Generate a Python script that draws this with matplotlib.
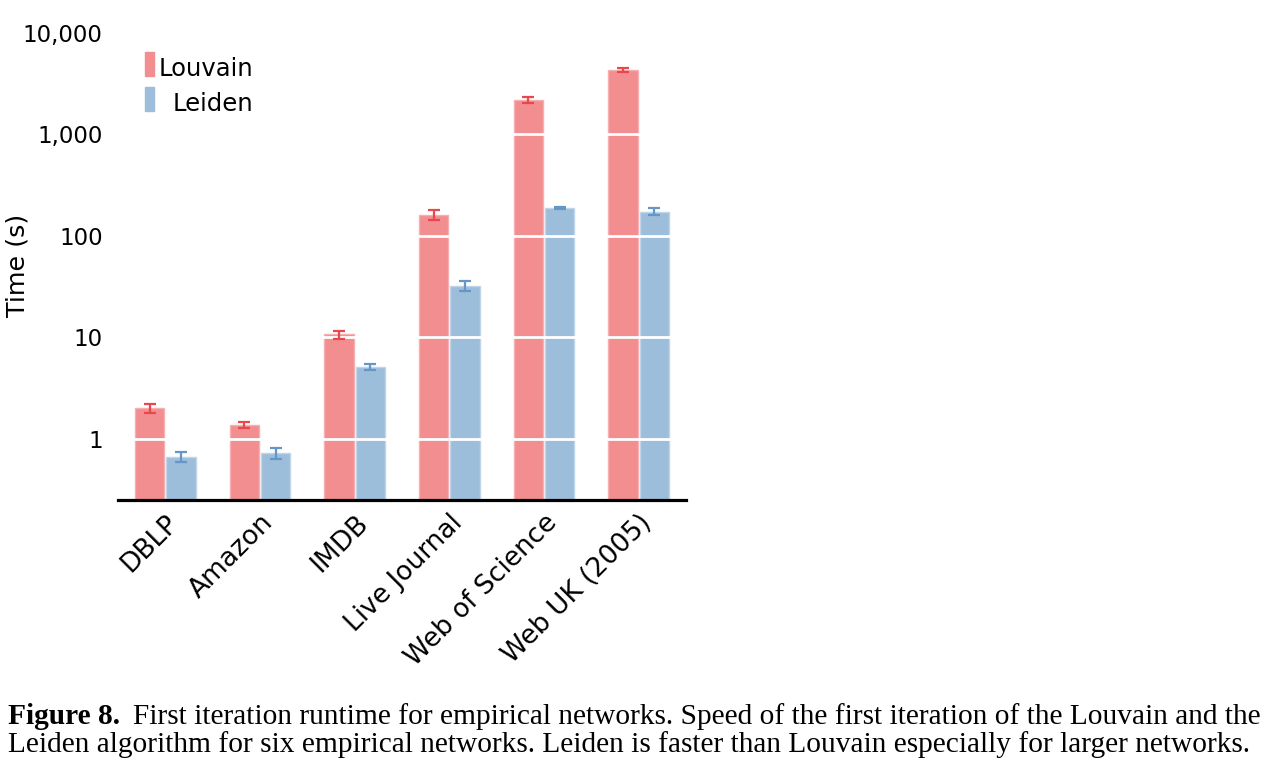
import numpy as np
import matplotlib
matplotlib.use('Agg')
import matplotlib.pyplot as plt
from matplotlib.patches import Rectangle
from matplotlib.ticker import FixedLocator, FuncFormatter, NullLocator

networks = ['DBLP', 'Amazon', 'IMDB', 'Live Journal', 'Web of Science', 'Web UK (2005)']

# runtime of first iteration (s)
louvain = [2.02, 1.37, 10.7, 161, 2190, 4320]
louvain_lo = [1.82, 1.28, 9.6, 144, 2057, 4130]
louvain_hi = [2.21, 1.47, 11.7, 180, 2340, 4550]

leiden = [0.665, 0.723, 5.12, 32.4, 187.5, 174]
leiden_lo = [0.597, 0.64, 4.78, 28.9, 184, 162]
leiden_hi = [0.75, 0.815, 5.52, 36, 191, 189]

yticks = [1, 10, 100, 1000, 10000]

RED = '#f28e8f'
RED_EDGE = '#f6b0b1'
RED_ERR = '#e8474c'
BLUE = '#9dbedb'
BLUE_EDGE = '#c0d5e9'
BLUE_ERR = '#6497c8'

plt.rcParams['font.family'] = ['DejaVu Sans']

fig = plt.figure(figsize=(12.86, 7.68), dpi=100)
ax = fig.add_axes([118 / 1286, 1 - 500 / 768, 568 / 1286, 467 / 768])

x = np.arange(len(networks))
w = 0.31
off = 0.165

ax.bar(x - off, louvain, w, color=RED, edgecolor=RED_EDGE, linewidth=1, zorder=1)
ax.bar(x + off, leiden, w, color=BLUE, edgecolor=BLUE_EDGE, linewidth=1, zorder=1)

lv = np.array(louvain)
ld = np.array(leiden)
ax.errorbar(x - off, lv, yerr=[lv - np.array(louvain_lo), np.array(louvain_hi) - lv],
            fmt='none', ecolor=RED_ERR, elinewidth=1.6, capsize=4.5, capthick=1.6, zorder=4)
ax.errorbar(x + off, ld, yerr=[ld - np.array(leiden_lo), np.array(leiden_hi) - ld],
            fmt='none', ecolor=BLUE_ERR, elinewidth=1.6, capsize=4.5, capthick=1.6, zorder=4)

ax.set_yscale('log')
ax.set_ylim(0.25, 10000)
ax.set_xlim(-0.5, 5.5)
ax.yaxis.set_major_locator(FixedLocator(yticks))
ax.yaxis.set_minor_locator(NullLocator())
ax.yaxis.set_major_formatter(FuncFormatter(lambda v, p: '{:,}'.format(int(round(v)))))

# white decade lines over the bars
ax.yaxis.grid(True, color='white', linewidth=2)
ax.set_axisbelow(False)
for gl in ax.get_ygridlines():
    gl.set_zorder(2)

for s in ['top', 'right', 'left']:
    ax.spines[s].set_visible(False)
ax.spines['bottom'].set_linewidth(2.3)
ax.spines['bottom'].set_zorder(5)

ax.tick_params(axis='y', length=0, pad=11, labelsize=16.5)
ax.tick_params(axis='x', length=0, pad=7, labelsize=19)
ax.set_xticks(x)
ax.set_xticklabels(networks, rotation=45, ha='right', rotation_mode='anchor')

ax.set_ylabel('Time (s)', fontsize=18.3)
ax.yaxis.set_label_coords((30 - 118) / 568, (500 - 265) / 467)

# legend, labels right-aligned as in the original
for i, (lab, col) in enumerate([('Louvain', RED), ('Leiden', BLUE)]):
    base = 1 - (75.5 - 33) / 467 - i * 35.5 / 467
    ax.add_patch(Rectangle((27 / 568, base), 9 / 568, 24 / 467,
                           transform=ax.transAxes, color=col, clip_on=False))
    ax.text(135 / 568, base, lab, transform=ax.transAxes, ha='right', va='baseline',
            fontsize=17.5)

fig.text(8 / 1286, 1 - 724 / 768, 'Figure 8.', fontsize=21.2, fontweight='bold',
         family='Liberation Serif', va='baseline')
fig.text(133 / 1286, 1 - 724 / 768,
         'First iteration runtime for empirical networks. Speed of the first iteration of the Louvain and the',
         fontsize=21.2, family='Liberation Serif', va='baseline')
fig.text(8 / 1286, 1 - 752 / 768,
         'Leiden algorithm for six empirical networks. Leiden is faster than Louvain especially for larger networks.',
         fontsize=21.2, family='Liberation Serif', va='baseline')

fig.savefig('out.png', dpi=100)
